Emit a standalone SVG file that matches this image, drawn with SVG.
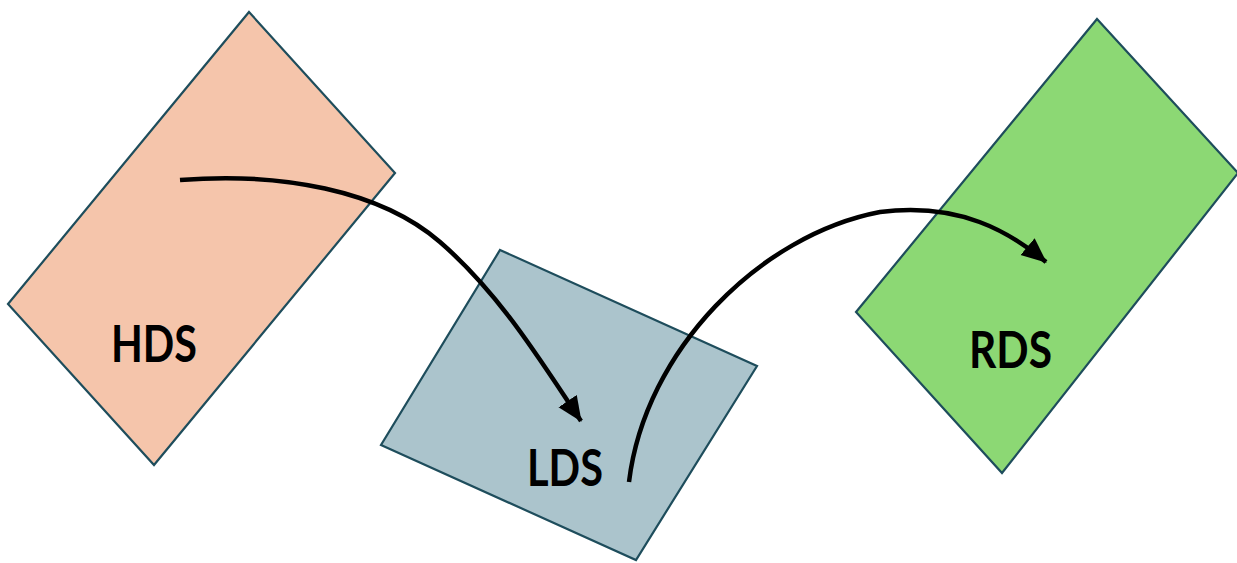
<svg xmlns="http://www.w3.org/2000/svg" width="1237" height="563" viewBox="0 0 1237 563">
<style>
.box{stroke:#1E4D5C;stroke-width:2.2;stroke-linejoin:miter}
.lbl{font-family:Lato,"Liberation Sans",sans-serif;font-weight:bold;font-size:51px;fill:#000}
.conn{fill:none;stroke:#000;stroke-width:4.5}
</style>
<defs>
<marker id="ah" markerUnits="userSpaceOnUse" markerWidth="28" markerHeight="24" refX="24" refY="11" orient="auto">
<path d="M0,0 L25,11 L0,22 Z" fill="#000"/>
</marker>
</defs>
<rect width="1237" height="563" fill="#fff"/>
<g id="HDS">
<polygon class="box" points="249,12 395,173 154,465 8,304" fill="#F5C5AB"/>
<text class="lbl" x="111" y="362" textLength="86" lengthAdjust="spacingAndGlyphs">HDS</text>
</g>
<g id="LDS">
<polygon class="box" points="500,250 757,366 636,560 381,445" fill="#ABC4CC"/>
<text class="lbl" x="527" y="486" textLength="76" lengthAdjust="spacingAndGlyphs">LDS</text>
</g>
<g id="RDS">
<polygon class="box" points="1097,19 1238,173 1002,473 856,312" fill="#8CD874"/>
<text class="lbl" x="969" y="368" textLength="83" lengthAdjust="spacingAndGlyphs">RDS</text>
</g>
<g id="connectors">
<path class="conn" d="M180,180 C280,172 380,190 440,242 C500,294 540,360 581,421" marker-end="url(#ah)"/>
<path class="conn" d="M629,482 C645,350 760,235 880,212 C960,202 1010,232 1046,262" marker-end="url(#ah)"/>
</g>
</svg>
